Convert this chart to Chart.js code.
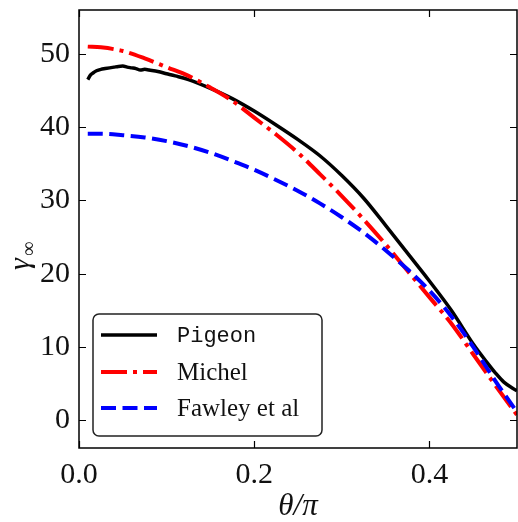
<!DOCTYPE html>
<html>
<head>
<meta charset="utf-8">
<script src="https://cdn.jsdelivr.net/npm/chart.js@4.4.1/dist/chart.umd.min.js"></script>
<style>
  html, body { margin: 0; padding: 0; background: #fff; }
</style>
</head>
<body>
<canvas id="myChart" width="518" height="522"></canvas>
<script>
// simulation (Pigeon) - denser sampling near the pole where it is noisy
const pigeonTheta = [0.010, 0.013, 0.016, 0.020, 0.025, 0.030, 0.035, 0.040, 0.045, 0.050,
  0.055, 0.060, 0.065, 0.070, 0.075, 0.080, 0.090, 0.100, 0.110, 0.125, 0.150, 0.175,
  0.200, 0.225, 0.250, 0.275, 0.300, 0.325, 0.350, 0.375, 0.400, 0.425, 0.450, 0.465,
  0.475, 0.485, 0.500]
const pigeonGamma = [46.5, 47.1, 47.4, 47.7, 47.9, 48.0, 48.1, 48.2, 48.3, 48.35,
  48.2, 48.1, 48.0, 47.8, 47.9, 47.8, 47.6, 47.3, 47.0, 46.5, 45.3, 43.9,
  42.2, 40.3, 38.3, 36.1, 33.4, 30.3, 26.6, 22.8, 19.0, 15.0, 10.4, 8.0,
  6.5, 5.2, 4.0]

// analytic models
const modelTheta = [0.010, 0.025, 0.050, 0.075, 0.100, 0.125, 0.150, 0.175, 0.200, 0.225,
  0.250, 0.275, 0.300, 0.325, 0.350, 0.375, 0.400, 0.425, 0.450, 0.475, 0.500]
const michelGamma = [51.0, 50.9, 50.4, 49.4, 48.2, 47.0, 45.4, 43.6, 41.3, 39.0,
  36.5, 33.6, 30.6, 27.4, 24.0, 20.4, 16.8, 13.2, 9.0, 4.8, 0.7]
const fawleyGamma = [39.1, 39.1, 38.9, 38.6, 38.1, 37.4, 36.5, 35.4, 34.2, 32.8,
  31.3, 29.6, 27.7, 25.6, 23.2, 20.6, 17.7, 14.2, 10.0, 5.4, 1.1]

const xTicks = [0, 0.2, 0.4]
const yTicks = [0, 10, 20, 30, 40, 50]

const pts = (xs, ys) => xs.map((x, i) => ({ x: x, y: ys[i] }))

const serif = '"Liberation Serif", "DejaVu Serif", serif'

const frameAndTicks = {
  id: 'frameAndTicks',
  afterDatasetsDraw(chart) {
    const { ctx, chartArea: a, scales: { x, y } } = chart
    ctx.save()
    ctx.strokeStyle = '#000'
    ctx.lineWidth = 1.2
    ctx.beginPath()
    xTicks.forEach(v => {
      const px = Math.round(x.getPixelForValue(v)) + 0.5
      ctx.moveTo(px, a.bottom); ctx.lineTo(px, a.bottom - 7)
      ctx.moveTo(px, a.top); ctx.lineTo(px, a.top + 7)
    })
    yTicks.forEach(v => {
      const py = Math.round(y.getPixelForValue(v)) + 0.5
      ctx.moveTo(a.left, py); ctx.lineTo(a.left + 7, py)
      ctx.moveTo(a.right, py); ctx.lineTo(a.right - 7, py)
    })
    ctx.stroke()
    ctx.lineWidth = 1.5
    ctx.strokeRect(a.left, a.top, a.right - a.left, a.bottom - a.top)
    ctx.restore()
  },
  afterDraw(chart) {
    const { ctx } = chart
    ctx.save()
    // legend box
    const bx = 93, by = 314, bw = 229, bh = 122, r = 6
    ctx.beginPath()
    ctx.roundRect(bx, by, bw, bh, r)
    ctx.fillStyle = 'rgba(255,255,255,0.85)'
    ctx.fill()
    ctx.lineWidth = 1.5
    ctx.strokeStyle = '#222'
    ctx.stroke()
    const rows = [335, 372, 408]
    chart.data.datasets.forEach((ds, i) => {
      const yy = rows[i]
      ctx.beginPath()
      ctx.setLineDash(ds.borderDash || [])
      ctx.lineWidth = ds.borderWidth
      ctx.strokeStyle = ds.borderColor
      ctx.lineCap = 'butt'
      ctx.moveTo(101, yy); ctx.lineTo(157, yy)
      ctx.stroke()
      ctx.setLineDash([])
      ctx.fillStyle = '#111'
      ctx.textBaseline = 'middle'
      ctx.textAlign = 'left'
      ctx.font = i === 0 ? '22px "Liberation Mono", "DejaVu Sans Mono", monospace' : '25px ' + serif
      ctx.fillText(ds.label, 177, yy + 1)
    })
    // axis titles
    ctx.fillStyle = '#111'
    ctx.textBaseline = 'alphabetic'
    ctx.textAlign = 'center'
    ctx.font = 'italic 31px ' + serif
    ctx.fillText('θ/π', 298, 515)
    ctx.translate(29, 250)
    ctx.rotate(-Math.PI / 2)
    ctx.textAlign = 'left'
    ctx.font = 'italic 30px ' + serif
    ctx.fillText('γ', -20, 0)
    ctx.font = '20px ' + serif
    ctx.fillText('∞', -6, 6)
    ctx.restore()
  }
}

const ctx = document.getElementById('myChart')

new Chart(ctx, {
  type: 'line',
  data: {
    datasets: [
      {
        label: 'Pigeon',
        data: pts(pigeonTheta, pigeonGamma),
        borderColor: '#000',
        borderWidth: 3.5,
        order: 3
      },
      {
        label: 'Michel',
        data: pts(modelTheta, michelGamma),
        borderColor: '#ff0000',
        borderWidth: 4,
        borderDash: [26, 6, 4, 6],
        order: 2
      },
      {
        label: 'Fawley et al',
        data: pts(modelTheta, fawleyGamma),
        borderColor: '#0000ff',
        borderWidth: 4,
        borderDash: [15, 6.5],
        order: 1
      }
    ]
  },
  options: {
    responsive: false,
    animation: false,
    devicePixelRatio: 1,
    layout: { padding: { left: 0, right: 1, top: 10, bottom: 0 } },
    elements: {
      point: { radius: 0 },
      line: { tension: 0.3, cubicInterpolationMode: 'monotone', fill: false }
    },
    plugins: {
      legend: { display: false },
      tooltip: { enabled: false }
    },
    scales: {
      x: {
        type: 'linear',
        min: 0,
        max: 0.5,
        afterBuildTicks: scale => { scale.ticks = xTicks.map(v => ({ value: v })) },
        afterFit: scale => {
          scale.height = 74
          scale.paddingLeft = 0; scale.paddingRight = 0
        },
        grid: { display: false, drawTicks: false },
        border: { display: false },
        ticks: {
          padding: 9,
          color: '#111',
          font: { family: serif, size: 30 },
          callback: v => v.toFixed(1),
          maxRotation: 0
        }
      },
      y: {
        type: 'linear',
        min: -3.8,
        max: 56.0,
        afterBuildTicks: scale => { scale.ticks = yTicks.map(v => ({ value: v })) },
        afterFit: scale => {
          scale.width = 79
          scale.paddingTop = 0; scale.paddingBottom = 0
        },
        grid: { display: false, drawTicks: false },
        border: { display: false },
        ticks: {
          padding: 9,
          color: '#111',
          font: { family: serif, size: 30 },
          callback: v => String(v)
        }
      }
    }
  },
  plugins: [frameAndTicks]
})
</script>
</body>
</html>
